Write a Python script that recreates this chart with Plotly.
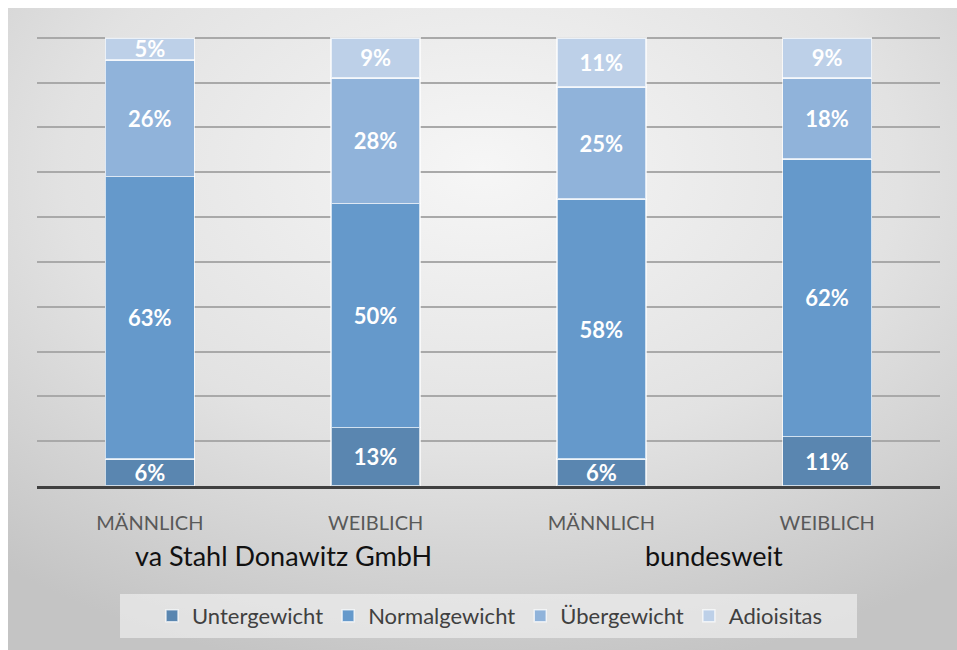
import base64
import plotly.graph_objects as go

categories = ["MÄNNLICH", "WEIBLICH", "MÄNNLICH ", "WEIBLICH "]
tick_labels = ["MÄNNLICH", "WEIBLICH", "MÄNNLICH", "WEIBLICH"]
groups = ["va Stahl Donawitz GmbH", "bundesweit"]
series_names = ["Untergewicht", "Normalgewicht", "Übergewicht", "Adioisitas"]
untergewicht = [6, 13, 6, 11]
normalgewicht = [63, 50, 58, 62]
uebergewicht = [26, 28, 25, 18]
adipositas = [5, 9, 11, 9]
colors = ["#5a86b0", "#6599cb", "#90b3da", "#bdd0e8"]

W, H = 957, 650
ml, mt, mr, mb = 37, 36, 17, 164
pw, ph = W - ml - mr, H - mt - mb


def py(y):
    return (H - mb - y) / ph


def px(x):
    return (x - ml) / pw


FONT = "Lato"

fig = go.Figure()
for name, vals, col in zip(series_names, [untergewicht, normalgewicht, uebergewicht, adipositas], colors):
    fig.add_trace(go.Bar(
        x=categories, y=vals, name=name,
        marker=dict(color=col, line=dict(color="rgba(255,255,255,0.7)", width=1.5)),
        text=[f"{v}%" for v in vals], textposition="inside", insidetextanchor="middle",
        textfont=dict(family=FONT, size=22, color="white", weight="bold"),
        hoverinfo="skip",
    ))

# background gradient (starts 8px in from top/left)
BW, BH = W - 8, H - 8
svg = f'''<svg xmlns="http://www.w3.org/2000/svg" width="{BW}" height="{BH}" viewBox="0 0 {BW} {BH}" preserveAspectRatio="none">
<defs><radialGradient id="g" cx="50%" cy="25%" r="80%" fx="50%" fy="25%">
<stop offset="0" stop-color="#f6f6f6"/><stop offset="0.55" stop-color="#e2e2e2"/><stop offset="1" stop-color="#c4c4c4"/></radialGradient></defs>
<rect x="0" y="0" width="{BW}" height="{BH}" fill="url(#g)"/></svg>'''
src = "data:image/svg+xml;base64," + base64.b64encode(svg.encode()).decode()
fig.add_layout_image(dict(source=src, xref="paper", yref="paper", x=px(8), y=py(8),
                          sizex=BW / pw, sizey=BH / ph, sizing="stretch",
                          xanchor="left", yanchor="top", layer="below"))

# legend box
fig.add_shape(type="rect", xref="paper", yref="paper", x0=px(120), x1=px(857), y0=py(638), y1=py(594),
              fillcolor="rgba(238,238,238,0.7)", line=dict(width=0), layer="below")

group_x = [0.593, 2.5]
for gx, g in zip(group_x, groups):
    fig.add_annotation(x=gx, y=py(555), xref="x", yref="paper",
                       text=g, showarrow=False, font=dict(family=FONT, size=27, color="#111111"),
                       yanchor="middle")

fig.update_layout(
    width=W, height=H, margin=dict(l=ml, r=mr, t=mt, b=mb),
    paper_bgcolor="white", plot_bgcolor="rgba(0,0,0,0)",
    barmode="stack", bargap=0.605,
    uniformtext=dict(minsize=20, mode="show"),
    font=dict(family=FONT),
    showlegend=True,
    legend=dict(orientation="h", x=px(490), xanchor="center", y=py(616), yanchor="middle",
                bgcolor="rgba(0,0,0,0)", font=dict(family=FONT, size=22, color="#404040"),
                traceorder="normal", itemwidth=30),
    xaxis=dict(tickvals=categories, ticktext=tick_labels, tickfont=dict(family=FONT, size=20, color="#595959"),
               showline=True, linecolor="#404040", linewidth=3, ticks="", ticklabelstandoff=17,
               showgrid=False, fixedrange=True),
    yaxis=dict(range=[0, 100.4], dtick=10, showticklabels=False, showgrid=True, gridcolor="#a9a9a9",
               gridwidth=1.5, zeroline=False, fixedrange=True),
)
fig.write_html("out.html", config={"displayModeBar": False},
               post_script="document.body.style.margin='0';document.body.style.overflow='hidden';")
